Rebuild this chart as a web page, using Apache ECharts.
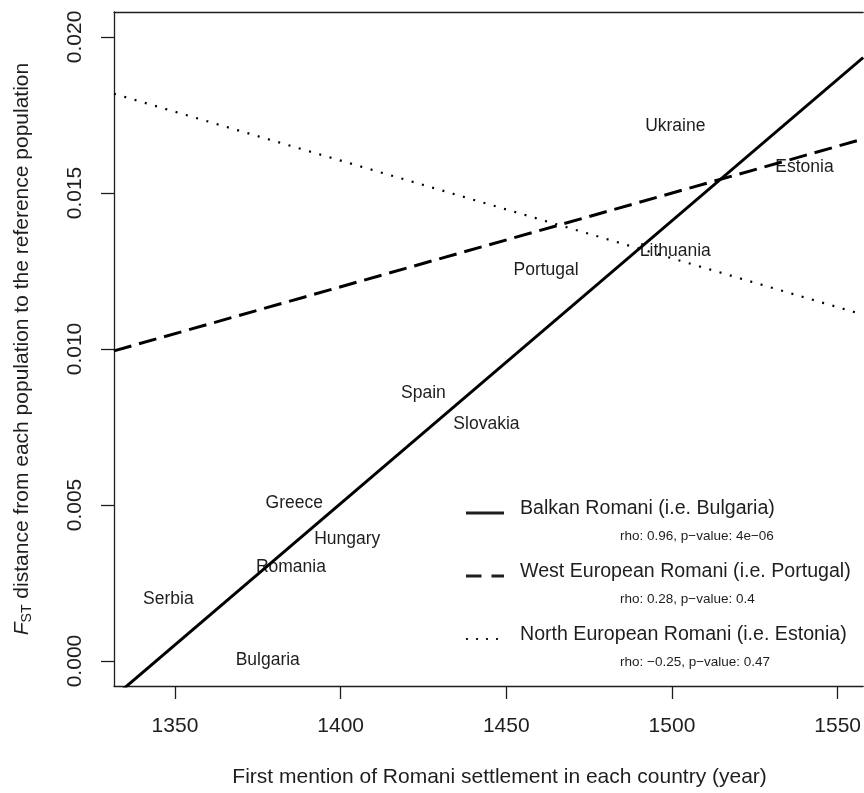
<!DOCTYPE html>
<html>
<head>
<meta charset="utf-8">
<script src="https://cdn.jsdelivr.net/npm/echarts@6/dist/echarts.min.js"></script>
<style>
  html, body { margin: 0; padding: 0; background: #fff; }
  #chart { width: 864px; height: 793px; }
</style>
</head>
<body>
<div id="chart"></div>
<script>
  // 国家及其首次记载年份、FST 距离
  const countries = ['Ukraine', 'Estonia', 'Lithuania', 'Portugal', 'Spain', 'Slovakia', 'Greece', 'Hungary', 'Romania', 'Serbia', 'Bulgaria']
  const years = [1501, 1540, 1501, 1462, 1425, 1444, 1386, 1402, 1385, 1348, 1378]
  const fst = [0.01714, 0.01584, 0.01313, 0.01254, 0.0086, 0.0076, 0.00507, 0.00391, 0.00301, 0.00199, 0.00003]

  // 三条回归线的端点（可见范围两端的年份）
  const fitYears = [1331.6, 1557.7]
  const balkanFit = [-0.00115, 0.01934]
  const westFit = [0.00994, 0.01673]
  const northFit = [0.01818, 0.0111]

  // 刻度
  const xTicks = [1350, 1400, 1450, 1500, 1550]
  const yTicks = [0, 0.005, 0.01, 0.015, 0.02]

  // 图例文字
  const legendNames = ['Balkan Romani (i.e. Bulgaria)', 'West European Romani (i.e. Portugal)', 'North European Romani (i.e. Estonia)']
  const legendStats = ['rho: 0.96, p\u2212value: 4e\u221206', 'rho: 0.28, p\u2212value: 0.4', 'rho: \u22120.25, p\u2212value: 0.47']

  const font = 'Liberation Sans, Arial, Helvetica, sans-serif'
  const ink = '#1e1e1e'

  const pairs = (xs, ys) => xs.map((x, i) => [x, ys[i]])

  const chartDom = echarts.init(document.getElementById('chart'))

  const lineStyles = [
    { type: 'solid', width: 3 },
    { type: [18, 8], width: 3 },
    { type: [2, 8.7], width: 2.2 }
  ]
  const sampleDash = [null, [15.5, 10], [2, 8]]

  // 图例：线条样本 + 名称 + 统计
  const legendGraphics = []
  legendNames.forEach((name, i) => {
    const cy = 509 + i * 63
    legendGraphics.push({
      type: 'line',
      shape: { x1: 466, y1: cy + 4, x2: 504, y2: cy + 4 },
      style: { stroke: ink, lineWidth: i === 2 ? 2.2 : 3, lineDash: sampleDash[i] }
    })
    legendGraphics.push({
      type: 'text',
      x: 520,
      y: cy,
      style: { text: name, font: '19.6px ' + font, fill: ink, verticalAlign: 'middle' }
    })
    legendGraphics.push({
      type: 'text',
      x: 620,
      y: cy + 27,
      style: { text: legendStats[i], font: '13.5px ' + font, fill: ink, verticalAlign: 'middle' }
    })
  })

  const boxLine = { show: true, onZero: false, lineStyle: { color: ink, width: 1.3 } }

  chartDom.setOption({
    animation: false,
    textStyle: { fontFamily: font, color: ink },
    // 图框右侧在原图中被裁掉，只画左、下、上三条边
    grid: { left: 114, top: 12, right: 0, bottom: 107 },
    xAxis: [
      {
        type: 'value',
        min: fitYears[0],
        max: fitYears[1],
        name: 'First mention of Romani settlement in each country (year)',
        nameLocation: 'middle',
        nameGap: 81,
        nameTextStyle: { fontSize: 21, color: ink, fontFamily: font, padding: [0, 0, 0, 22] },
        splitLine: { show: false },
        axisLine: boxLine,
        axisTick: { show: true, length: 13, lineStyle: { color: ink, width: 1.3 }, customValues: xTicks },
        axisLabel: { fontSize: 21, color: ink, margin: 30, customValues: xTicks, formatter: (v) => String(v) }
      },
      {
        type: 'value',
        position: 'top',
        min: fitYears[0],
        max: fitYears[1],
        splitLine: { show: false },
        axisLine: boxLine,
        axisTick: { show: false },
        axisLabel: { show: false }
      }
    ],
    yAxis: {
      type: 'value',
      min: -0.0008,
      max: 0.0208,
      name: '{f|F}{s|ST}{n| distance from each population to the reference population}',
      nameLocation: 'middle',
      nameGap: 80,
      nameRotate: 90,
      nameTextStyle: {
        color: ink,
        fontFamily: font,
        rich: {
          f: { fontSize: 21, fontStyle: 'italic', lineHeight: 24, fontFamily: font, color: ink },
          s: { fontSize: 14, verticalAlign: 'bottom', lineHeight: 14, fontFamily: font, color: ink },
          n: { fontSize: 21, lineHeight: 24, fontFamily: font, color: ink }
        }
      },
      splitLine: { show: false },
      axisLine: boxLine,
      axisTick: { show: true, length: 13, lineStyle: { color: ink, width: 1.3 }, customValues: yTicks },
      axisLabel: {
        fontSize: 21,
        color: ink,
        rotate: 90,
        margin: 28,
        customValues: yTicks,
        formatter: (v) => v.toFixed(3)
      }
    },
    series: [
      ...[balkanFit, westFit, northFit].map((fit, i) => ({
        name: legendNames[i],
        type: 'line',
        data: pairs(fitYears, fit),
        showSymbol: false,
        clip: true,
        lineStyle: { color: '#000', ...lineStyles[i] },
        silent: true
      })),
      {
        type: 'scatter',
        data: years.map((y, i) => ({ value: [y, fst[i]], name: countries[i] })),
        symbolSize: 0.1,
        itemStyle: { color: '#fff' },
        label: {
          show: true,
          position: 'inside',
          formatter: (p) => p.name,
          fontSize: 17.5,
          color: ink,
          opacity: 1,
          fontFamily: font
        }
      }
    ],
    graphic: legendGraphics
  })
</script>
</body>
</html>
